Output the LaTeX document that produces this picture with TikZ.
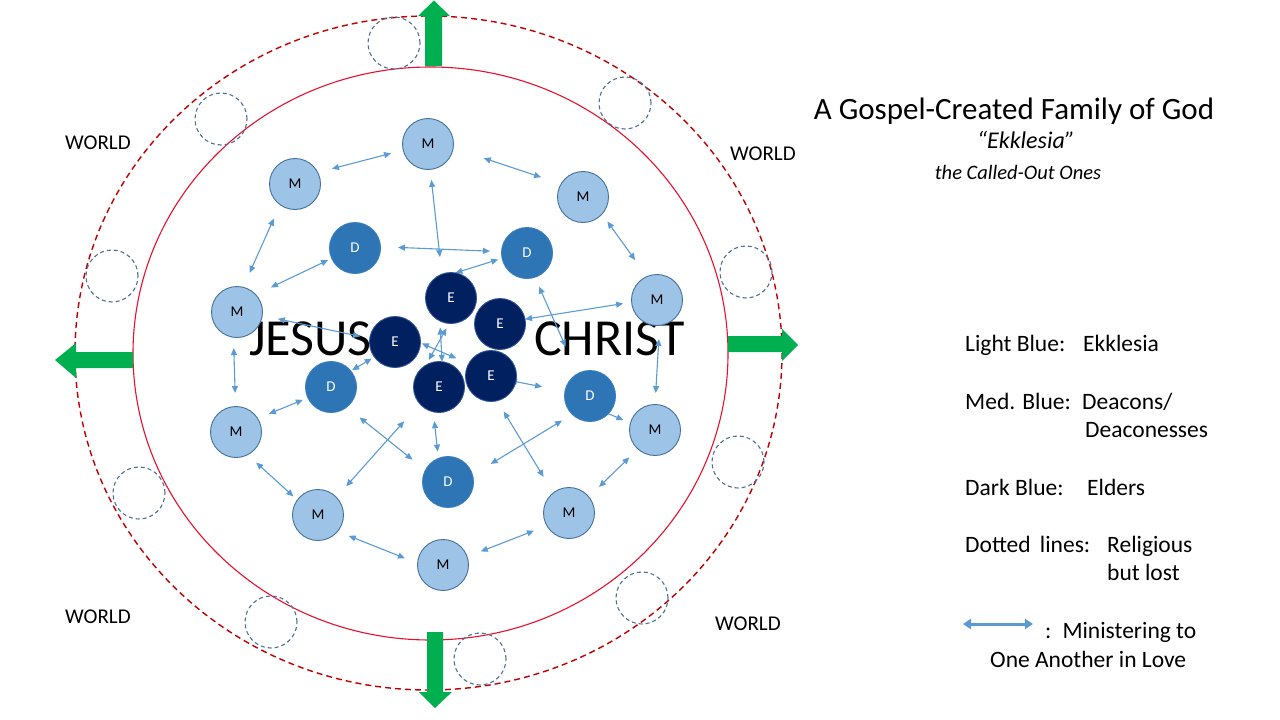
\documentclass[tikz,border=0pt]{standalone}
\usepackage{fontspec}
\setmainfont{Carlito}
\usetikzlibrary{arrows.meta,backgrounds}
\definecolor{mfill}{HTML}{9DC3E6}
\definecolor{mline}{HTML}{41719C}
\definecolor{dfill}{HTML}{2E75B6}
\definecolor{dline}{HTML}{3A7FC0}
\definecolor{efill}{HTML}{002060}
\definecolor{eline}{HTML}{2F5597}
\definecolor{arrowc}{HTML}{5B9BD5}
\definecolor{innerred}{HTML}{E8112D}
\definecolor{outerred}{HTML}{C00000}
\definecolor{lostc}{HTML}{4F6E93}
\definecolor{gospelgreen}{HTML}{00B050}
\tikzset{
  member/.style={circle, minimum size=51pt, inner sep=0pt, outer sep=0pt, fill=mfill, draw=mline, line width=0.9pt, text=black, font=\fontsize{15}{15}\selectfont},
  deacon/.style={member, fill=dfill, draw=dline, text=white},
  elder/.style={member, fill=efill, draw=eline, text=white},
  lost/.style={circle, minimum size=52pt, inner sep=0pt, draw=lostc, line width=1.1pt, dash pattern=on 4pt off 3pt},
  ministry/.style={draw=arrowc, line width=1.1pt, <->, >={Triangle[length=7pt,width=6pt]}},
  worldlbl/.style={anchor=base west, inner sep=0pt, font=\fontsize{21}{21}\selectfont},
  legend/.style={anchor=base west, inner sep=0pt, font=\fontsize{23.5}{24}\selectfont},
  greenarrow/.style={fill=gospelgreen}
}
\begin{document}
\begin{tikzpicture}[x=1pt,y=-1pt]
\useasboundingbox (0,0) rectangle (1280,720);

% members
\node[member] (M1) at (428,144) {M};
\node[member] (M2) at (295,184) {M};
\node[member] (M3) at (583,197) {M};
\node[member] (M4) at (237,312) {M};
\node[member] (M5) at (657,300) {M};
\node[member] (M6) at (236,432) {M};
\node[member] (M7) at (655,430) {M};
\node[member] (M8) at (318,515) {M};
\node[member] (M9) at (569,513) {M};
\node[member] (M10) at (443,565) {M};
% deacons
\node[deacon] (D1) at (355,248) {D};
\node[deacon] (D2) at (527,253) {D};
\node[deacon] (D3) at (331,387) {D};
\node[deacon] (D4) at (590,396) {D};
\node[deacon] (D5) at (448,482) {D};
% elders
\node[elder] (E1) at (451,298) {E};
\node[elder] (E2) at (500,324) {E};
\node[elder] (E3) at (395,342) {E};
\node[elder] (E4) at (439,387) {E};
\node[elder] (E5) at (491,376) {E};

\begin{pgfonlayer}{background}
% circles of the church and the world
\draw[innerred, line width=1.1pt] (430.5,353.5) ellipse [x radius=297.5, y radius=286.5];
\draw[outerred, line width=1.4pt, dash pattern=on 6pt off 4pt] (428.5,353) ellipse [x radius=353.5, y radius=337];
% religious but lost
\node[lost] (L1) at (394,43) {};
\node[lost] (L2) at (221,119) {};
\node[lost] (L3) at (625,103) {};
\node[lost] (L4) at (112,276) {};
\node[lost] (L5) at (746,272) {};
\node[lost] (L6) at (139,493) {};
\node[lost] (L7) at (738,462) {};
\node[lost] (L8) at (271,622) {};
\node[lost] (L9) at (642,598) {};
\node[lost] (L10) at (480,659) {};
% sending arrows
\fill[greenarrow] (425,66) -- (425,16) -- (418,16) -- (434,0.5) -- (450,16) -- (442,16) -- (442,66) -- cycle;
\fill[greenarrow] (728,336) -- (782,336) -- (782,329) -- (798,345) -- (782,361) -- (782,352) -- (728,352) -- cycle;
\fill[greenarrow] (427,632) -- (427,692) -- (419,692) -- (435,708) -- (452,692) -- (443,692) -- (443,632) -- cycle;
\fill[greenarrow] (133,352) -- (76,352) -- (76,343) -- (55,360) -- (76,378) -- (76,368) -- (133,368) -- cycle;
% JESUS CHRIST
\node[anchor=base west, inner sep=0pt, font=\fontsize{52}{52}\selectfont] (jesus) at (249,355) {JESUS};
\node[anchor=base west, inner sep=0pt, font=\fontsize{52}{52}\selectfont] (christ) at (534,355) {CHRIST};
% ministering to one another
\draw[ministry, shorten <=14.7pt, shorten >=12.6pt] (M2.27) -- (M1.194);
\draw[ministry, shorten <=10.6pt, shorten >=17.2pt] (M1.275) -- (E1.111);
\draw[ministry, shorten <=17.5pt, shorten >=11.6pt] (D1.3) -- (D2.177);
\draw[ministry, shorten <=15.3pt, shorten >=15.7pt] (M2.234) -- (M4.76);
\draw[ministry, shorten <=4pt, shorten >=16.9pt] (D1.204) -- (M4.43);
\draw[ministry, shorten <=0pt, shorten >=4.1pt] (E1.80) -- (D2.192);
\draw[ministry, shorten <=32.2pt, shorten >=21.1pt] (M1.351) -- (M3.149);
\draw[ministry, shorten <=9.2pt, shorten >=20.2pt] (M3.318) -- (M5.113);
\draw[ministry, shorten <=15.9pt, shorten >=9.9pt] (M4.352) -- (E3.172);
\draw[ministry, shorten <=0pt, shorten >=8.6pt] (E2.11) -- (M5.185);
\draw[ministry, shorten <=10.2pt, shorten >=29.6pt] (D2.288) -- (D4.119);
\draw[ministry, shorten <=13.7pt, shorten >=11.5pt] (M5.276) -- (M7.90);
\draw[ministry, shorten <=10.8pt, shorten >=13.5pt] (M4.262) -- (M6.91);
\draw[ministry, shorten <=1.5pt, shorten >=3.1pt] (D3.39) -- (E3.216);
\draw[ministry, shorten <=12.2pt, shorten >=5.4pt] (M6.32) -- (D3.205);
\draw[ministry, shorten <=1.5pt, shorten >=13.5pt] (E3.358) -- (E5.151);
\draw[ministry, shorten <=5.9pt, shorten >=5.6pt] (E4.121) -- (E1.266);
\draw[ministry, shorten <=6.7pt, shorten >=0pt] (E1.244) -- (E4.83);
\draw[ministry, shorten <=-6pt, shorten >=23.3pt] (E5.347) -- (D4.169);
\draw[ministry, shorten <=-8pt, shorten >=7.7pt] (D4.316) -- (M7.164);
\draw[ministry, shorten <=14.8pt, shorten >=23.4pt] (M8.44) -- (E4.221);
\draw[ministry, shorten <=16.5pt, shorten >=16.6pt] (D3.308) -- (D5.152);
\draw[ministry, shorten <=9.4pt, shorten >=6.8pt] (E4.257) -- (D5.112);
\draw[ministry, shorten <=12.6pt, shorten >=18.7pt] (E5.284) -- (M9.128);
\draw[ministry, shorten <=21.3pt, shorten >=12pt] (D5.16) -- (D4.226);
\draw[ministry, shorten <=11.6pt, shorten >=5.3pt] (M6.297) -- (M8.144);
\draw[ministry, shorten <=12.1pt, shorten >=13.6pt] (M8.320) -- (M10.176);
\draw[ministry, shorten <=14.7pt, shorten >=13.9pt] (M10.19) -- (M9.210);
\draw[ministry, shorten <=14.3pt, shorten >=12pt] (M9.39) -- (M7.228);
\end{pgfonlayer}

% WORLD labels
\node[worldlbl] (w1) at (65,149) {WORLD};
\node[worldlbl] (w2) at (730,160) {WORLD};
\node[worldlbl] (w3) at (65,623) {WORLD};
\node[worldlbl] (w4) at (715,630) {WORLD};

% title
\node[anchor=base, inner sep=0pt, font=\fontsize{31}{31}\selectfont] (title) at (1014,119) {A Gospel-Created Family of God};
\node[anchor=base, inner sep=0pt, font=\itshape\fontsize{24}{24}\selectfont] (ekk) at (1026,148) {“Ekklesia”};
\node[anchor=base, inner sep=0pt, font=\itshape\fontsize{20.5}{21}\selectfont] (called) at (1018,179) {the Called-Out Ones};

% legend
\node[legend] (lg1a) at (965,351) {Light Blue:};
\node[legend] (lg1b) at (1083,351) {Ekklesia};
\node[legend] (lg2a) at (965,409) {Med. Blue:};
\node[legend] (lg2b) at (1082,409) {Deacons/};
\node[legend] (lg2c) at (1085,437) {Deaconesses};
\node[legend] (lg3a) at (965,495) {Dark Blue:};
\node[legend] (lg3b) at (1087,495) {Elders};
\node[legend] (lg4a) at (965,552) {Dotted\, lines:};
\node[legend] (lg4b) at (1107,552) {Religious};
\node[legend] (lg4c) at (1107,580) {but lost};
\coordinate (legL) at (963,624);
\coordinate (legR) at (1033,624);
\draw[draw=arrowc, line width=3pt, <->, >={Triangle[length=8pt,width=10pt]}] (legL) -- (legR);
\node[legend] (lg5a) at (1045,638) {:\, Ministering to};
\node[legend] (lg5b) at (990,667) {One Another in Love};
\end{tikzpicture}
\end{document}
